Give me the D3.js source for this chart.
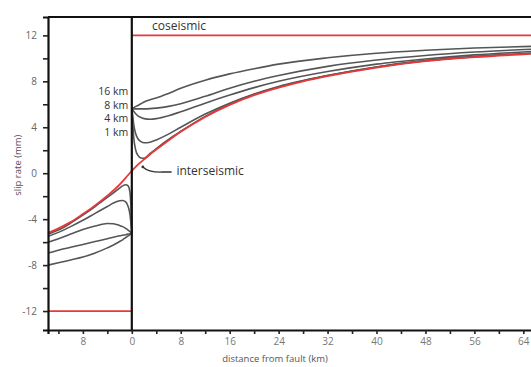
<!DOCTYPE html>
<html>
<head>
<meta charset="utf-8">
<script src="https://cdn.jsdelivr.net/npm/d3@7"></script>
<style>
  html, body { margin: 0; padding: 0; background: #fff; }
  svg { display: block; font-family: "Open Sans", "DejaVu Sans", sans-serif; }
</style>
</head>
<body>
<svg id="chart" width="531" height="367"></svg>
<script>
// ---- data (distance from fault in km; negative = left side of fault) ----
const distLeft  = [-13.7, -12, -10, -8, -6, -4, -3, -2, -1.5, -1, -0.6, -0.3, -0.15, 0];
const distRight = [0, 0.15, 0.3, 0.6, 1, 1.5, 2, 3, 4, 6, 8, 12, 16, 20, 24, 32, 40, 48, 56, 65.5];

// postseismic curves (labels 16 km, 8 km, 4 km, 1 km, plus the nearest one)
const curveLabels = ["16 km", "8 km", "4 km", "1 km"];
const seriesA_left  = [-8.0, -7.8, -7.55, -7.3, -6.95, -6.5, -6.25, -5.95, -5.8, -5.6, -5.45, -5.35, -5.3, -5.25];
const seriesB_left  = [-6.95, -6.7, -6.45, -6.2, -5.95, -5.7, -5.57, -5.45, -5.4, -5.35, -5.3, -5.27, -5.26, -5.25];
const seriesC_left  = [-6.0, -5.7, -5.3, -4.9, -4.6, -4.38, -4.4, -4.55, -4.65, -4.8, -4.95, -5.08, -5.15, -5.25];
const seriesD_left  = [-5.5, -5.15, -4.65, -4.1, -3.5, -2.9, -2.6, -2.4, -2.37, -2.5, -2.9, -3.6, -4.3, -5.25];
const seriesE_left  = [-5.3, -4.95, -4.35, -3.65, -2.9, -2.1, -1.7, -1.3, -1.1, -1.0, -1.1, -1.7, -2.9, -5.25];

const seriesA_right = [5.6, 5.65, 5.7, 5.8, 5.9, 6.05, 6.2, 6.4, 6.55, 6.95, 7.4, 8.1, 8.65, 9.1, 9.5, 10.05, 10.45, 10.7, 10.9, 11.05];
const seriesB_right = [5.6, 5.6, 5.6, 5.6, 5.6, 5.6, 5.6, 5.62, 5.67, 5.82, 6.05, 6.7, 7.4, 8.0, 8.5, 9.3, 9.85, 10.25, 10.55, 10.8];
const seriesC_right = [5.6, 5.5, 5.4, 5.2, 5.0, 4.85, 4.75, 4.7, 4.75, 5.0, 5.35, 6.1, 6.8, 7.45, 8.0, 8.85, 9.5, 9.95, 10.3, 10.6];
const seriesD_right = [5.6, 5.0, 4.3, 3.5, 3.0, 2.75, 2.65, 2.7, 2.9, 3.4, 4.0, 5.15, 6.1, 6.9, 7.55, 8.5, 9.25, 9.8, 10.15, 10.45];
const seriesE_right = [5.6, 4.5, 3.2, 2.1, 1.55, 1.32, 1.3, 1.72, 2.15, 2.95, 3.65, 4.95, 6.0, 6.85, 7.5, 8.5, 9.25, 9.8, 10.15, 10.45];

// interseismic (red)
const interDist = [-13.7, -12, -10, -8, -6, -4, -2, -1, 0, 1, 2, 3, 5, 8, 12, 16, 20, 24, 28, 32, 40, 48, 56, 65.5];
const interVals = [-5.2, -4.8, -4.25, -3.55, -2.8, -1.95, -1.0, -0.4, 0.2, 0.75, 1.2, 1.65, 2.45, 3.6, 4.9, 5.95, 6.8, 7.45, 8.0, 8.45, 9.2, 9.75, 10.1, 10.4];

// coseismic (red steps)
const coseismicLeft  = -12;
const coseismicRight = 12;

const xTicks = [-12, -8, -4, 0, 4, 8, 12, 16, 20, 24, 28, 32, 36, 40, 44, 48, 52, 56, 60, 64];
const yTicks = [-12, -10, -8, -6, -4, -2, 0, 2, 4, 6, 8, 10, 12];

// ---- layout ----
const svg = d3.select("#chart");
const x = d3.scaleLinear().domain([-13.7, 65.5]).range([48, 532.5]);
const y = d3.scaleLinear().domain([-13.65, 13.6]).range([330, 17]);

const grayColor = "#555";
const redColor = "#e8383b";

const line = d3.line().x(d => x(d[0])).y(d => y(d[1])).curve(d3.curveMonotoneX);

// gray curves
const leftSeries = [seriesA_left, seriesB_left, seriesC_left, seriesD_left, seriesE_left];
const rightSeries = [seriesA_right, seriesB_right, seriesC_right, seriesD_right, seriesE_right];
leftSeries.forEach(s => {
  svg.append("path").attr("d", line(distLeft.map((d, i) => [d, s[i]])))
    .attr("fill", "none").attr("stroke", grayColor).attr("stroke-width", 1.6);
});
rightSeries.forEach(s => {
  svg.append("path").attr("d", line(distRight.map((d, i) => [d, s[i]])))
    .attr("fill", "none").attr("stroke", grayColor).attr("stroke-width", 1.6);
});

// interseismic red
svg.append("path").attr("d", line(interDist.map((d, i) => [d, interVals[i]])))
  .attr("fill", "none").attr("stroke", redColor).attr("stroke-width", 1.8);

// coseismic red
svg.append("line").attr("x1", x(-13.7)).attr("x2", x(0)).attr("y1", y(coseismicLeft)).attr("y2", y(coseismicLeft))
  .attr("stroke", redColor).attr("stroke-width", 1.8);
svg.append("line").attr("x1", x(0)).attr("x2", x(65.5)).attr("y1", y(coseismicRight)).attr("y2", y(coseismicRight))
  .attr("stroke", redColor).attr("stroke-width", 1.8);

// axes
const xAxis = d3.axisBottom(x).tickValues(xTicks).tickSize(4).tickPadding(4)
  .tickFormat(d => (d % 8 === 0 ? String(Math.abs(d)) : ""));
const gx = svg.append("g").attr("transform", `translate(0,${y(-13.65)})`).call(xAxis);
gx.select(".domain").attr("stroke", "#111").attr("stroke-width", 2.2);
gx.selectAll(".tick line").attr("stroke", "#222").attr("stroke-width", 1.6);
gx.selectAll(".tick text").attr("fill", "#777").attr("font-size", 10).attr("font-family", "Open Sans, sans-serif");

const yAxis = d3.axisLeft(y).tickValues(yTicks).tickSize(5).tickPadding(6)
  .tickFormat(d => (d % 4 === 0 ? String(d) : ""));
const gy = svg.append("g").attr("transform", `translate(${x(-13.7)},0)`).call(yAxis);
gy.select(".domain").attr("stroke", "#111").attr("stroke-width", 2.2);
gy.selectAll(".tick line").attr("stroke", "#222").attr("stroke-width", 1.6);
gy.selectAll(".tick text").attr("fill", "#666").attr("font-size", 10).attr("font-family", "Open Sans, sans-serif");

// top frame and fault line
svg.append("line").attr("x1", x(-13.7)).attr("x2", x(65.5)).attr("y1", y(13.6)).attr("y2", y(13.6))
  .attr("stroke", "#111").attr("stroke-width", 2.2);
svg.append("line").attr("x1", x(0)).attr("x2", x(0)).attr("y1", y(13.6)).attr("y2", y(-13.65))
  .attr("stroke", "#111").attr("stroke-width", 2.2);

// labels
svg.append("text").attr("x", x(3.3)).attr("y", y(12.75)).attr("fill", "#333").attr("font-size", 12)
  .attr("dominant-baseline", "middle").text("coseismic");

const labelVals = [7.07, 5.85, 4.72, 3.5];
curveLabels.forEach((t, i) => {
  svg.append("text").attr("x", x(-0.6)).attr("y", y(labelVals[i])).attr("fill", "#333")
    .attr("font-size", 10.5).attr("text-anchor", "end").attr("dominant-baseline", "middle").text(t);
});

// interseismic annotation
svg.append("circle").attr("cx", x(1.8)).attr("cy", y(0.55)).attr("r", 1.4).attr("fill", "#333");
svg.append("path")
  .attr("d", `M${x(1.8)},${y(0.55)} Q${x(2.8)},${y(0.05)} ${x(5)},${y(0.1)} L${x(6.5)},${y(0.1)}`)
  .attr("fill", "none").attr("stroke", "#333").attr("stroke-width", 1.4);
svg.append("text").attr("x", x(7.3)).attr("y", y(0.12)).attr("fill", "#333").attr("font-size", 12)
  .attr("dominant-baseline", "middle").text("interseismic");

// axis titles
svg.append("text").attr("x", 275).attr("y", 362).attr("text-anchor", "middle")
  .attr("fill", "#555").attr("font-size", 9.5).text("distance from fault (km)");
svg.append("text").attr("transform", `translate(21,${y(0.7)}) rotate(-90)`).attr("text-anchor", "middle")
  .attr("fill", "#5a4a55").attr("font-size", 9.5).text("slip rate (mm)");
</script>
</body>
</html>
